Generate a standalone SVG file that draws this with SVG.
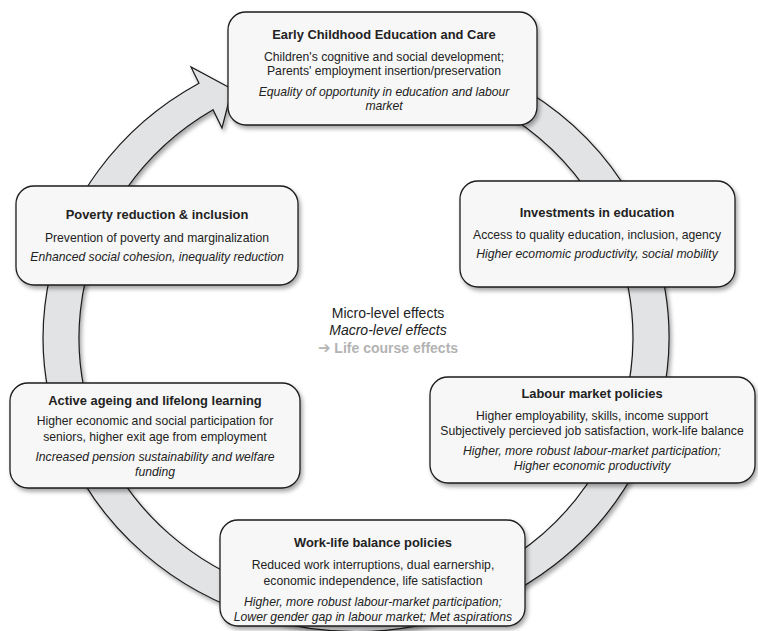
<svg xmlns="http://www.w3.org/2000/svg" width="758" height="631" viewBox="0 0 758 631">
<defs>
<filter id="sh" x="-10%" y="-10%" width="125%" height="130%">
<feDropShadow dx="2" dy="3" stdDeviation="2" flood-color="#000" flood-opacity="0.35"/>
</filter>
<style>
.node rect{fill:#f7f7f7;stroke:#1e1e1e;stroke-width:1.3;filter:url(#sh)}
text{font-family:"Liberation Sans",Arial,sans-serif;fill:#222;text-anchor:middle}
.t{font-weight:bold;font-size:12.9px}
.b{font-size:12.2px}
.i{font-size:12.2px;font-style:italic}
.c{font-size:14px}
.band{fill:#e2e3e5;stroke:#1a1a1a;stroke-width:1.2;filter:url(#sh)}
</style>
</defs>
<rect width="758" height="631" fill="#fff"/>
<g id="connectors">
<path class="band" d="M400,46.4 A313,294 0 1,1 199,83.2 L191,67 L232,89 L222,128 L213,109.7 A277,266 0 1,0 400,74.9 Z"/>
</g>
<g id="center-legend">
<text class="c" x="388" y="318">Micro-level effects</text>
<text class="c" x="388" y="335" font-style="italic">Macro-level effects</text>
<text class="c" x="388" y="353" font-weight="bold" style="fill:#b3b3b3"><tspan font-family="DejaVu Sans" font-size="15px" style="fill:#b3b3b3">➔</tspan> Life course effects</text>
</g>
<g id="ecec" class="node">
<rect x="228" y="12" width="309" height="113" rx="18"/>
<text class="t" x="384" y="39">Early Childhood Education and Care</text>
<text class="b" x="384" y="61">Children's cognitive and social development;</text>
<text class="b" x="384" y="75">Parents' employment insertion/preservation</text>
<text class="i" x="384" y="96">Equality of opportunity in education and labour</text>
<text class="i" x="384" y="110">market</text>
</g>
<g id="investments" class="node">
<rect x="460" y="181" width="275" height="106" rx="18"/>
<text class="t" x="597" y="217">Investments in education</text>
<text class="b" x="597" y="239">Access to quality education, inclusion, agency</text>
<text class="i" x="597" y="258">Higher ecomomic productivity, social mobility</text>
</g>
<g id="labour" class="node">
<rect x="430" y="377" width="325" height="106" rx="18"/>
<text class="t" x="592" y="398">Labour market policies</text>
<text class="b" x="592" y="420">Higher employability, skills, income support</text>
<text class="b" x="592" y="435">Subjectively percieved job satisfaction, work-life balance</text>
<text class="i" x="592" y="455">Higher, more robust labour-market participation;</text>
<text class="i" x="592" y="470">Higher economic productivity</text>
</g>
<g id="worklife" class="node">
<rect x="220" y="520" width="305" height="106" rx="18"/>
<text class="t" x="373" y="547">Work-life balance policies</text>
<text class="b" x="373" y="569">Reduced work interruptions, dual earnership,</text>
<text class="b" x="373" y="585">economic independence, life satisfaction</text>
<text class="i" x="373" y="606">Higher, more robust labour-market participation;</text>
<text class="i" x="373" y="621">Lower gender gap in labour market; Met aspirations</text>
</g>
<g id="ageing" class="node">
<rect x="10" y="383" width="290" height="105" rx="18"/>
<text class="t" x="155" y="405">Active ageing and lifelong learning</text>
<text class="b" x="155" y="425">Higher economic and social participation for</text>
<text class="b" x="155" y="441">seniors, higher exit age from employment</text>
<text class="i" x="155" y="461">Increased pension sustainability and welfare</text>
<text class="i" x="155" y="476">funding</text>
</g>
<g id="poverty" class="node">
<rect x="16" y="186" width="282" height="99" rx="18"/>
<text class="t" x="157" y="219">Poverty reduction &amp; inclusion</text>
<text class="b" x="157" y="242">Prevention of poverty and marginalization</text>
<text class="i" x="157" y="261">Enhanced social cohesion, inequality reduction</text>
</g>
</svg>
